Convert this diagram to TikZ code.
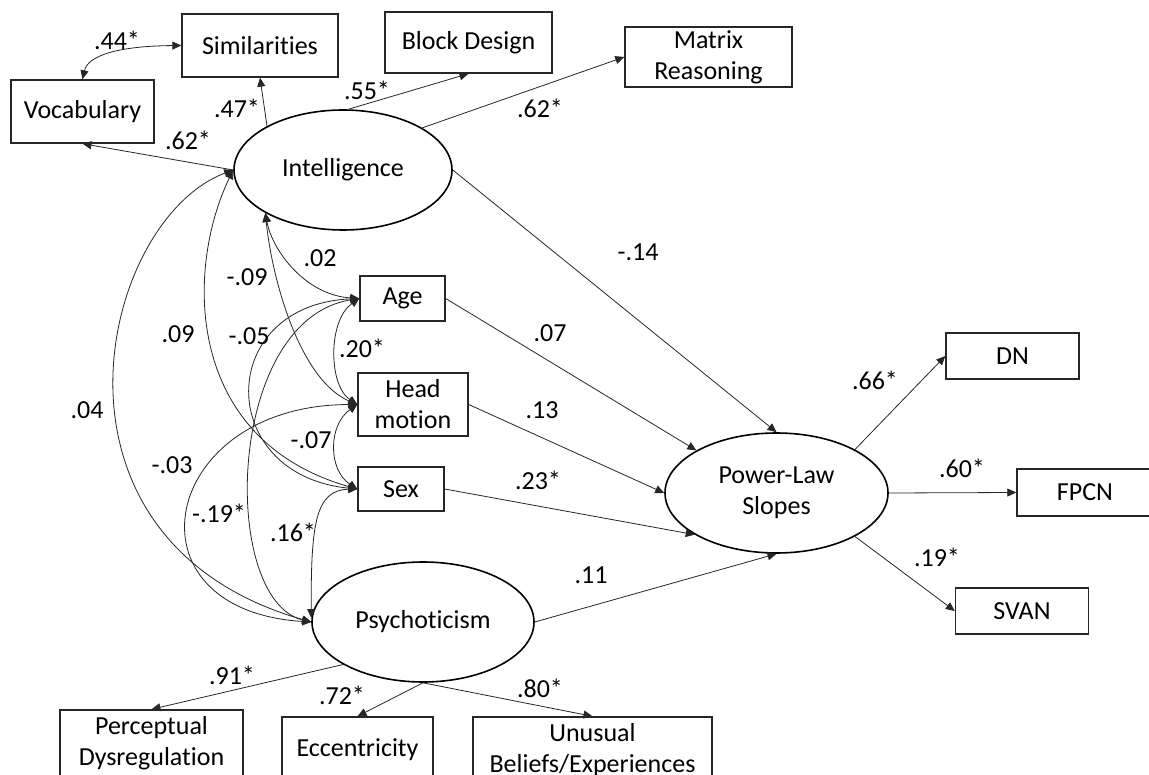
\documentclass[tikz,border=0pt]{standalone}
\usepackage{fontspec}
\setmainfont{Carlito}[Ligatures=NoCommon]
\usetikzlibrary{shapes.geometric,arrows.meta}
\begin{document}
\begin{tikzpicture}[x=1pt,y=-1pt,
  font=\fontsize{26}{31}\selectfont,
  box/.style={draw=black!85,line width=1.4pt,inner sep=0pt,align=center},
  latent/.style={draw,ellipse,line width=1.6pt,inner sep=0pt,align=center},
  path/.style={line width=0.8pt,draw=black!85,-{Triangle[length=9pt,width=8pt]}},
  cov/.style={line width=0.8pt,draw=black!85,{Triangle[length=9pt,width=8pt]}-{Triangle[length=9pt,width=8pt]}},
  lbl/.style={inner sep=0pt}]
\useasboundingbox (0,0) rectangle (1149,775);

% indicators of intelligence
\node[box,minimum width=156pt,minimum height=63pt] (sim) at (260,45.5) {Similarities};
\node[box,minimum width=143pt,minimum height=63pt] (voc) at (82.5,111.5) {Vocabulary};
\node[box,minimum width=167pt,minimum height=61pt] (bd) at (468.5,42.5) {Block Design};
\node[box,minimum width=167pt,minimum height=60pt] (mr) at (708.5,57) {Matrix\\Reasoning};

% latent variables
\node[latent,minimum width=218pt,minimum height=120pt] (intel) at (343,170) {Intelligence};
\node[latent,minimum width=222pt,minimum height=120pt] (psy) at (423,622) {Psychoticism};
\node[latent,minimum width=223pt,minimum height=120pt] (pls) at (776.5,493) {Power-Law\\Slopes};

% covariates
\node[box,minimum width=85pt,minimum height=45pt] (age) at (402.5,298.5) {Age};
\node[box,minimum width=110pt,minimum height=63pt] (hm) at (413,404.5) {Head\\motion};
\node[box,minimum width=86pt,minimum height=44pt] (sex) at (401,489) {Sex};

% network indicators
\node[box,minimum width=133pt,minimum height=46pt] (dn) at (1012.5,356) {DN};
\node[box,minimum width=136pt,minimum height=47pt] (fpcn) at (1085,492.5) {FPCN};
\node[box,minimum width=133pt,minimum height=46pt] (svan) at (1022,611) {SVAN};

% indicators of psychoticism
\node[box,minimum width=183pt,minimum height=66pt] (pd) at (151.5,743) {Perceptual\\Dysregulation};
\node[box,minimum width=151pt,minimum height=66pt] (ecc) at (357.5,750) {Eccentricity};
\node[box,minimum width=239pt,minimum height=66pt] (ub) at (592.5,750) {Unusual\\Beliefs/Experiences};

% loadings of intelligence
\draw[path] (intel.150) -- (sim.south);
\draw[path] (intel.85) -- (bd.south);
\draw[path] (intel.28) -- (mr.west);
\draw[path] (intel.west) -- (voc.south);
\draw[cov] (voc.north) .. controls (88,55) and (120,46) .. (sim.west);

% loadings of psychoticism
\draw[path] (psy.208) -- (pd.north);
\draw[path] (psy.south) -- (ecc.north);
\draw[path] (psy.south) -- (ub.north);

% loadings of power-law slopes
\draw[path] (pls.29) -- (dn.west);
\draw[path] (pls.east) -- (fpcn.west);
\draw[path] (pls.-29) -- (svan.west);

% regressions on power-law slopes
\draw[path] (intel.east) -- (pls.north);
\draw[path] (age.east) -- (pls.152);
\draw[path] (hm.east) -- (pls.west);
\draw[path] (sex.east) -- (pls.207);
\draw[path] (psy.east) -- (pls.south);

% covariances
\draw[cov] (intel.west) .. controls (100,220) and (25,540) .. (psy.west);
\draw[cov] (intel.west) .. controls (185,270) and (185,440) .. (sex.west);
\draw[cov] (intel.209.5) .. controls (272,250) and (305,295) .. (age.west);
\draw[cov] (intel.209.5) .. controls (272,280) and (300,380) .. (hm.west);
\draw[cov] (age.west) .. controls (215,305) and (215,475) .. (sex.west);
\draw[cov] (age.west) .. controls (225,320) and (220,600) .. (psy.west);
\draw[cov] (age.west) .. controls (328,320) and (328,385) .. (hm.west);
\draw[cov] (hm.west) .. controls (328,425) and (328,470) .. (sex.west);
\draw[cov] (hm.west) .. controls (160,405) and (120,610) .. (psy.west);
\draw[cov] (sex.west) .. controls (315,490) and (311,525) .. ([yshift=4pt]psy.west);

% coefficients
\node[lbl] (l44) at (117,40) {.44*};
\node[lbl] (l47) at (237,108) {.47*};
\node[lbl] (l62a) at (188,140) {.62*};
\node[lbl] (l55) at (367,90) {.55*};
\node[lbl] (l62b) at (540,108) {.62*};
\node[lbl] (l02) at (320,258) {.02};
\node[lbl] (l09n) at (247,277) {-.09};
\node[lbl] (l09) at (178,334) {.09};
\node[lbl] (l05) at (249,336) {-.05};
\node[lbl] (l20) at (362,348) {.20*};
\node[lbl] (l04) at (87,410) {.04};
\node[lbl] (l07n) at (311,440) {-.07};
\node[lbl] (l03) at (172,465) {-.03};
\node[lbl] (l19n) at (219,513) {-.19*};
\node[lbl] (l16) at (293,532) {.16*};
\node[lbl] (l14) at (638,252) {-.14};
\node[lbl] (l07) at (550,333) {.07};
\node[lbl] (l13) at (542,410) {.13};
\node[lbl] (l23) at (538,480) {.23*};
\node[lbl] (l11) at (591,575) {.11};
\node[lbl] (l66) at (875,380) {.66*};
\node[lbl] (l60) at (962,468) {.60*};
\node[lbl] (l19) at (937,557) {.19*};
\node[lbl] (l91) at (232,675) {.91*};
\node[lbl] (l72) at (342,695) {.72*};
\node[lbl] (l80) at (540,688) {.80*};
\end{tikzpicture}
\end{document}
